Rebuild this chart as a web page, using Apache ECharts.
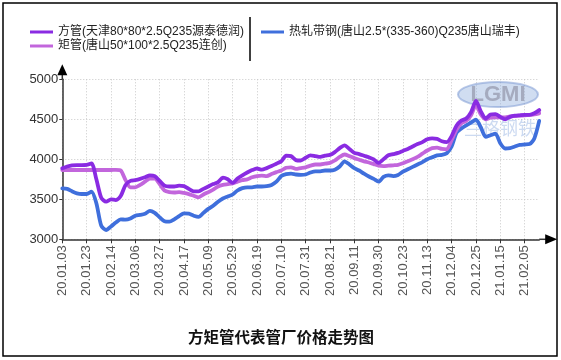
<!DOCTYPE html>
<html>
<head>
<meta charset="utf-8">
<script src="https://cdn.jsdelivr.net/npm/echarts@6/dist/echarts.min.js"></script>
<style>
  html, body { margin: 0; padding: 0; background: #fff; }
  #main { width: 561px; height: 360px; }
</style>
</head>
<body>
<div id="main"></div>
<script>
// ---- data ----
const tickLabels = ['20.01.03','20.01.23','20.02.14','20.03.06','20.03.27','20.04.17','20.05.09','20.05.29','20.06.19','20.07.10','20.07.31','20.08.21','20.09.11','20.09.30','20.10.23','20.11.13','20.12.04','20.12.25','21.01.15','21.02.05'];
const pointsPerTick = 5; // samples between labelled dates
const seriesNames = ['方管(天津80*80*2.5Q235源泰德润)', '矩管(唐山50*100*2.5Q235连创)', '热轧带钢(唐山2.5*(335-360)Q235唐山瑞丰)'];
const fangGuan = [3887,3910,3925,3928,3928,3930,3950,3750,3520,3470,
  3500,3490,3540,3680,3730,3740,3755,3775,3800,3790,
  3730,3670,3660,3660,3670,3665,3630,3600,3600,3630,
  3660,3690,3715,3770,3750,3705,3760,3800,3835,3865,
  3885,3870,3890,3915,3945,3975,4045,4040,3990,3985,
  4020,4050,4040,4030,4045,4055,4090,4140,4175,4130,
  4080,4065,4045,4025,4000,3955,4000,4050,4065,4080,
  4105,4130,4160,4190,4215,4250,4262,4255,4225,4215,
  4290,4420,4485,4510,4590,4730,4600,4510,4560,4565,
  4530,4500,4530,4545,4550,4555,4555,4575,4615];
const juGuan = [3866,3866,3866,3866,3866,3866,3866,3866,3866,3866,
  3866,3868,3860,3740,3650,3650,3680,3720,3760,3760,
  3690,3610,3590,3585,3590,3580,3565,3545,3525,3560,
  3590,3620,3660,3680,3690,3700,3720,3740,3750,3775,
  3790,3795,3790,3815,3840,3860,3895,3900,3880,3890,
  3900,3920,3935,3935,3945,3955,3985,4030,4060,4040,
  4015,3995,3975,3960,3940,3920,3915,3920,3925,3930,
  3950,3975,4000,4030,4070,4110,4140,4145,4130,4125,
  4240,4370,4450,4480,4550,4680,4560,4500,4520,4525,
  4525,4525,4535,4540,4545,4550,4555,4560,4575];
const reZha = [3637,3630,3600,3575,3566,3566,3595,3450,3170,3116,
  3160,3210,3250,3245,3260,3295,3305,3320,3355,3330,
  3275,3225,3220,3250,3290,3325,3320,3295,3280,3330,
  3380,3420,3470,3510,3535,3560,3610,3640,3650,3650,
  3660,3660,3665,3680,3720,3790,3815,3820,3810,3805,
  3810,3835,3850,3850,3860,3860,3870,3910,3975,3935,
  3890,3860,3820,3785,3755,3720,3780,3800,3790,3805,
  3845,3875,3905,3935,3965,4000,4025,4050,4055,4075,
  4160,4330,4385,4425,4460,4495,4400,4280,4300,4320,
  4200,4135,4140,4160,4180,4185,4190,4260,4480];
const yMin = 3000, yMax = 5000, yStep = 500;

// categories: labelled dates every pointsPerTick samples
const categories = fangGuan.map((_, i) => (i % pointsPerTick === 0 && tickLabels[i / pointsPerTick]) ? tickLabels[i / pointsPerTick] : '');
const isTick = (i) => i % pointsPerTick === 0 && !!tickLabels[i / pointsPerTick];

const colors = ['#8a2be2', '#c266dc', '#3f6fdc'];
const FONT = '"Liberation Sans", Arial, "Noto Sans CJK SC", sans-serif';

const chart = echarts.init(document.getElementById('main'), null, { renderer: 'canvas' });

const mkSeries = (name, data, color, z) => ({
  name, type: 'line', data, showSymbol: false, smooth: 0.25, z,
  lineStyle: { color, width: 3.8, cap: 'round', join: 'round' },
  itemStyle: { color },
  emphasis: { disabled: true }
});

chart.setOption({
  animation: false,
  backgroundColor: '#fff',
  textStyle: { fontFamily: FONT },
  title: {
    text: '方矩管代表管厂价格走势图',
    left: 183, top: 324,
    textStyle: { fontSize: 15.5, fontWeight: 'bold', color: '#111', fontFamily: '"Noto Sans CJK SC", sans-serif' }
  },
  legend: [
    {
      data: [seriesNames[0], seriesNames[1]],
      orient: 'vertical', left: 25, top: 21, itemGap: 2,
      icon: 'rect', itemWidth: 23, itemHeight: 3,
      textStyle: { fontSize: 12, color: '#222', fontFamily: FONT }
    },
    {
      data: [seriesNames[2]],
      orient: 'vertical', left: 256, top: 21,
      icon: 'rect', itemWidth: 23, itemHeight: 3,
      textStyle: { fontSize: 12, color: '#222', fontFamily: FONT }
    }
  ],
  grid: { left: 62.3, right: 21.8, top: 79.3, bottom: 120.7, containLabel: false },
  xAxis: {
    type: 'category', data: categories, boundaryGap: false,
    axisLine: { lineStyle: { color: '#333', width: 1.5 } },
    axisTick: { show: true, length: 4, interval: (i) => isTick(i), lineStyle: { color: '#333' } },
    axisLabel: { interval: (i) => isTick(i), rotate: 90, fontSize: 13, color: '#555', margin: 6, fontFamily: FONT },
    splitLine: { show: true, interval: (i) => isTick(i), lineStyle: { color: '#c8c8c8', type: [1, 2], width: 1 } }
  },
  yAxis: {
    type: 'value', min: yMin, max: yMax, interval: yStep,
    axisLine: { show: true, lineStyle: { color: '#333', width: 1.5 } },
    axisTick: { show: true, length: 3, lineStyle: { color: '#333' } },
    axisLabel: { fontSize: 13, color: '#333', margin: 4, fontFamily: FONT, formatter: (v) => String(v) },
    splitLine: { show: true, lineStyle: { color: '#c8c8c8', type: [1, 2], width: 1 } }
  },
  series: [
    mkSeries(seriesNames[0], fangGuan, colors[0], 5),
    mkSeries(seriesNames[1], juGuan, colors[1], 4),
    mkSeries(seriesNames[2], reZha, colors[2], 3)
  ]
});

// axis arrows, border, legend separator and watermark
const lastIdx = fangGuan.length - 1;
const pOrigin = chart.convertToPixel({ gridIndex: 0 }, [0, yMin]);
const pRight = chart.convertToPixel({ gridIndex: 0 }, [lastIdx, yMin]);
const pTop = chart.convertToPixel({ gridIndex: 0 }, [0, yMax]);
const ax = pOrigin[0], ay = pOrigin[1];
chart.setOption({
  graphic: [
    // watermark (behind lines)
    { type: 'ellipse', z: 1, shape: { cx: 498, cy: 94.5, rx: 40, ry: 12.5 },
      style: { fill: 'rgba(150,180,225,0.45)', stroke: 'rgba(120,150,210,0.5)', lineWidth: 2 } },
    { type: 'text', z: 1, style: { x: 498, y: 94.5, text: 'LGMI', align: 'center', verticalAlign: 'middle',
      fontSize: 22, fontWeight: 'bold', fill: 'rgba(130,130,150,0.55)', fontFamily: FONT } },
    { type: 'text', z: 1, style: { x: 500, y: 128, text: '兰格钢铁', align: 'center', verticalAlign: 'middle',
      fontSize: 18, fill: 'rgba(110,150,215,0.35)', fontFamily: '"Noto Sans CJK SC", sans-serif' } },
    // x axis extension + arrow
    { type: 'line', z: 10, shape: { x1: pRight[0], y1: ay, x2: pRight[0] + 7, y2: ay }, style: { stroke: '#333', lineWidth: 1.5 } },
    { type: 'polygon', z: 10, shape: { points: [[pRight[0] + 6, ay - 5], [pRight[0] + 18, ay], [pRight[0] + 6, ay + 5]] }, style: { fill: '#000' } },
    // y axis extension + arrow
    { type: 'line', z: 10, shape: { x1: ax, y1: pTop[1], x2: ax, y2: pTop[1] - 5 }, style: { stroke: '#333', lineWidth: 1.5 } },
    { type: 'polygon', z: 10, shape: { points: [[ax - 5, pTop[1] - 4], [ax, pTop[1] - 15], [ax + 5, pTop[1] - 4]] }, style: { fill: '#000' } },
    // legend separator
    { type: 'line', z: 10, shape: { x1: 250, y1: 17, x2: 250, y2: 61 }, style: { stroke: '#000', lineWidth: 1.5 } },
    // outer border
    { type: 'rect', z: 10, shape: { x: 3, y: 3, width: 554, height: 353 }, style: { fill: 'none', stroke: '#000', lineWidth: 1.5 } }
  ]
});
</script>
</body>
</html>
